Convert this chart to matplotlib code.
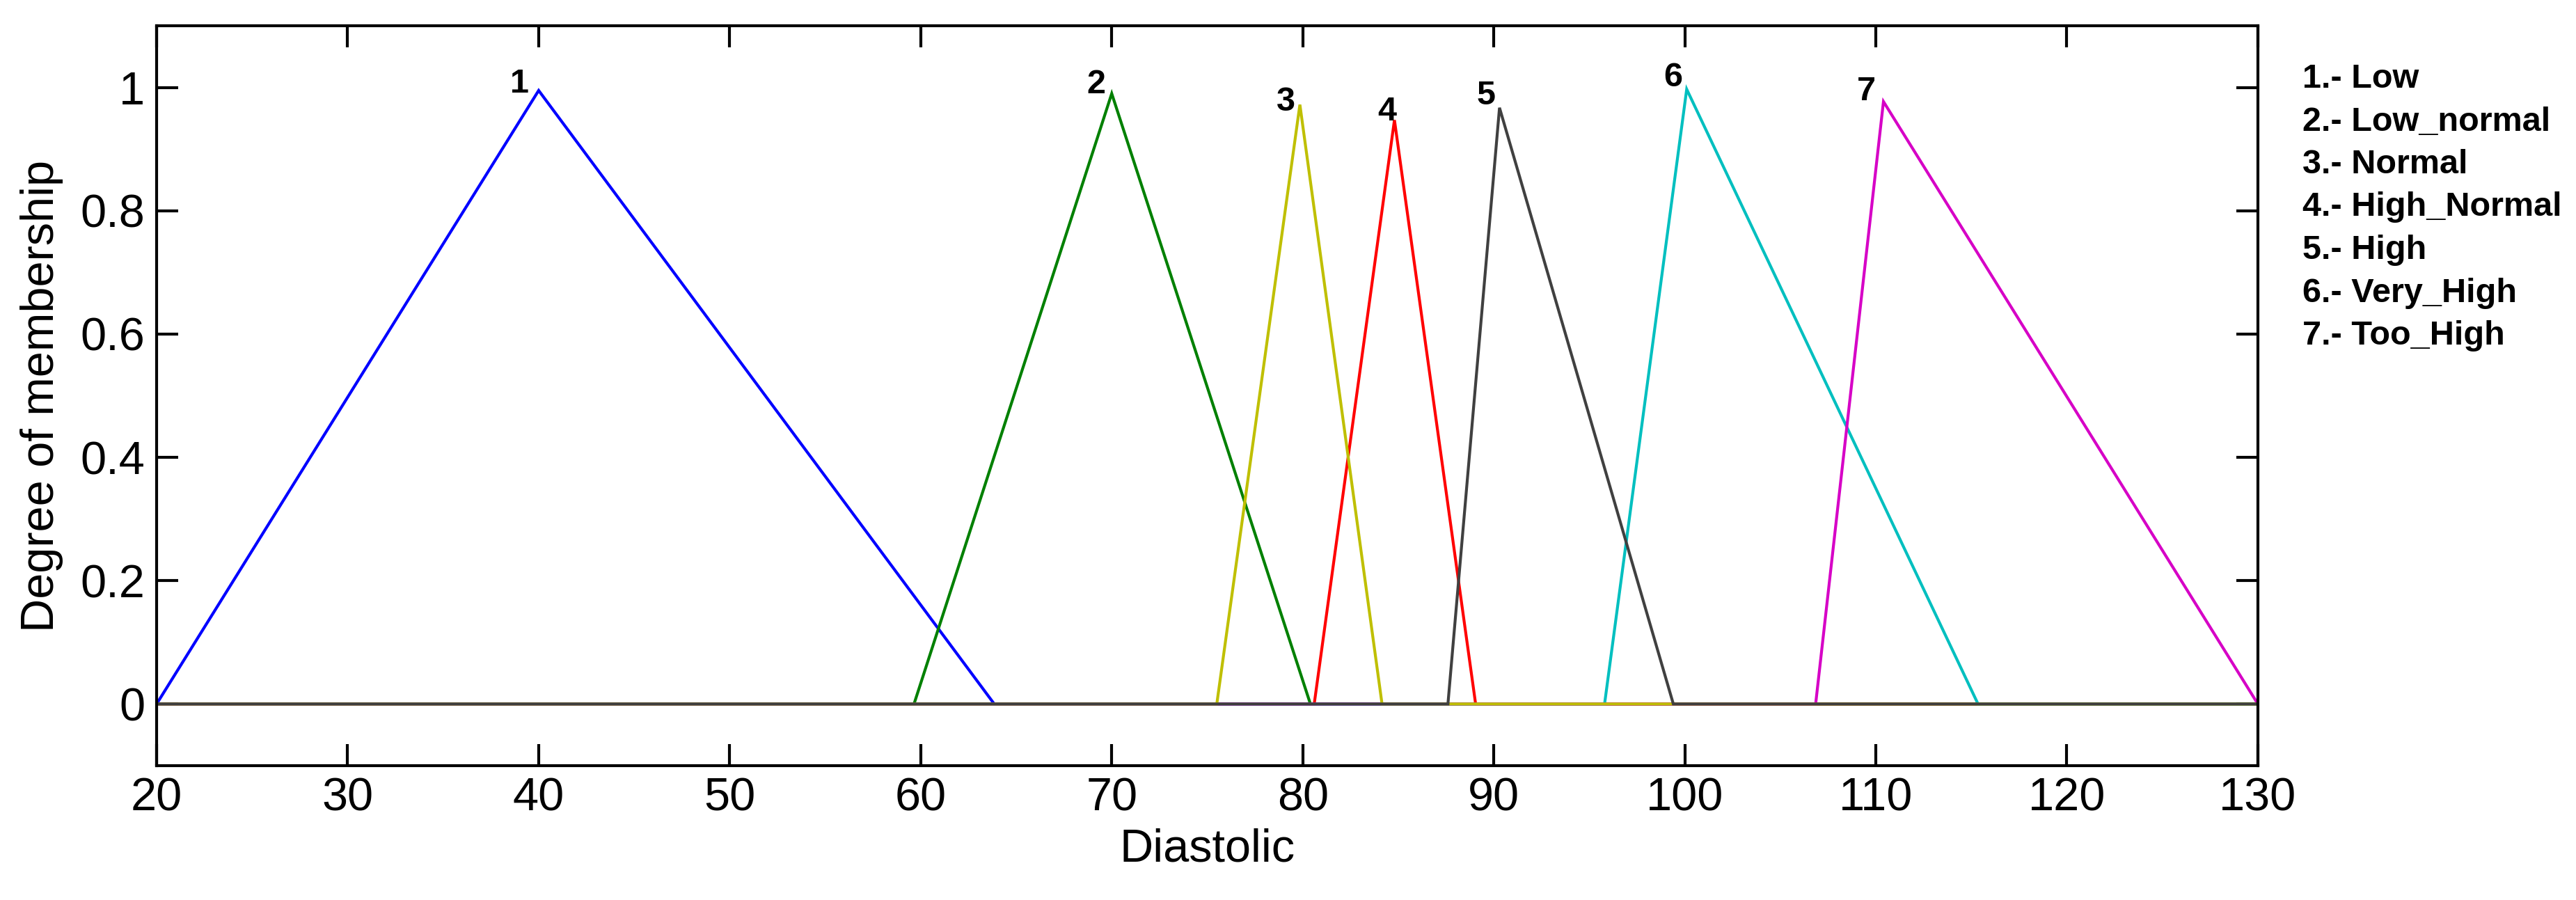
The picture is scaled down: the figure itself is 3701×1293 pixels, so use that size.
import matplotlib
matplotlib.use("Agg")
import matplotlib.pyplot as plt

plt.rcParams["font.family"] = ["Liberation Sans", "DejaVu Sans"]

# membership functions (triangles), feet / peak
mf_names = ["Low", "Low_normal", "Normal", "High_Normal", "High", "Very_High", "Too_High"]
mf_left = [20.0, 59.65, 75.5, 80.6, 87.6, 95.8, 106.85]
mf_peak = [40.0, 70.0, 79.85, 84.8, 90.3, 100.1, 110.4]
mf_right = [63.85, 80.4, 84.15, 89.05, 99.4, 115.35, 130.0]
mf_height = [0.995, 0.99, 0.972, 0.947, 0.967, 0.997, 0.977]
mf_colors = ["#0000ff", "#008000", "#bfbf00", "#ff0000", "#404040", "#00bfbf", "#d600c6"]

# number tags sitting above each peak
tag_x = [39.0, 69.2, 79.1, 84.4, 89.6, 99.4, 109.5]
tag_y = [0.992, 0.99, 0.962, 0.947, 0.972, 1.002, 0.979]

x_range = [20, 130]
x_ticks = [20, 30, 40, 50, 60, 70, 80, 90, 100, 110, 120, 130]
y_ticks = [0, 0.2, 0.4, 0.6, 0.8, 1]
y_tick_labels = ["0", "0.2", "0.4", "0.6", "0.8", "1"]

# order in which the curves get drawn (last one ends up on top of the 0 line)
draw_order = [0, 1, 3, 5, 6, 2, 4]

fig = plt.figure(figsize=(37.01, 12.93), dpi=100)
ax = fig.add_axes([0.0608, 0.1493, 0.8157, 0.8221])

for i in draw_order:
    xs = [x_range[0], mf_left[i], mf_peak[i], mf_right[i], x_range[1]]
    ys = [0, 0, mf_height[i], 0, 0]
    ax.plot(xs, ys, color=mf_colors[i], lw=3, solid_joinstyle="miter")

for i in range(len(mf_names)):
    ax.text(tag_x[i], tag_y[i], str(i + 1), fontsize=35, fontweight="bold",
            ha="center", va="baseline")

ax.set_xlim(x_range)
ax.set_ylim(-0.1, 1.1)
ax.set_xticks(x_ticks)
ax.set_yticks(y_ticks)
ax.set_yticklabels(y_tick_labels)
ax.tick_params(direction="in", length=22, width=3, top=True, right=True,
               labelsize=48, pad=12)
for sp in ax.spines.values():
    sp.set_linewidth(3)

ax.set_xlabel("Diastolic", fontsize=48, labelpad=8)
ax.set_ylabel("Degree of membership", fontsize=48)
ax.yaxis.set_label_coords(-0.0444, 0.5)

# legend-like list on the right
for i, name in enumerate(mf_names):
    y = 1 - (126 + 61.5 * i) / 1293
    fig.text(0.8938, y, f"{i + 1}.- {name}", fontsize=35, fontweight="bold",
             va="baseline")

fig.savefig("out.png", dpi=100)
